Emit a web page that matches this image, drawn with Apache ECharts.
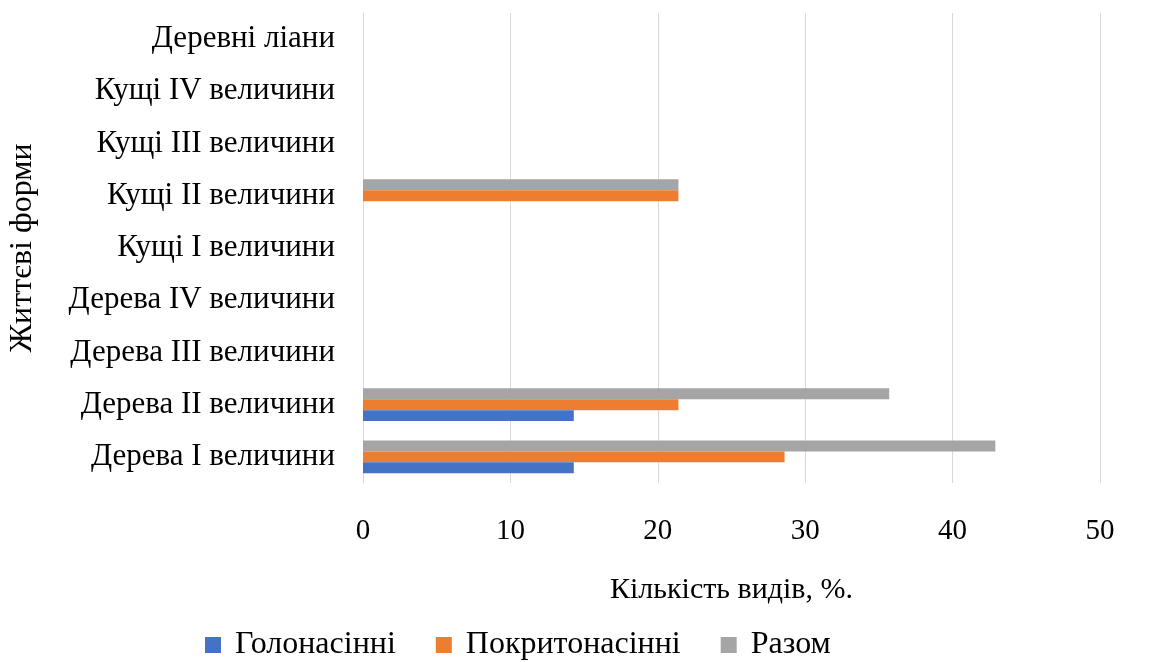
<!DOCTYPE html>
<html><head><meta charset="utf-8">
<script src="https://cdn.jsdelivr.net/npm/echarts@6/dist/echarts.min.js"></script>
<style>html,body{margin:0;padding:0;background:#fff}#c{width:1157px;height:662px}</style>
</head><body><div id="c"></div>
<script>
const categories = ['Дерева I величини','Дерева II величини','Дерева III величини','Дерева IV величини','Кущі I величини','Кущі II величини','Кущі III величини','Кущі IV величини','Деревні ліани'];
const seriesNames = ['Голонасінні','Покритонасінні','Разом'];
const gymno = [14.3, 14.3, 0, 0, 0, 0, 0, 0, 0];
const angio = [28.6, 21.4, 0, 0, 0, 21.4, 0, 0, 0];
const total = [42.9, 35.7, 0, 0, 0, 21.4, 0, 0, 0];
const xTicks = [0, 10, 20, 30, 40, 50];
const colors = ['#4472c4', '#ed7d31', '#a5a5a5'];
const font = 'Liberation Serif';
const chart = echarts.init(document.getElementById('c'));
const barCommon = {type: 'bar', barGap: '0%', barCategoryGap: '37%'};
chart.setOption({
  animation: false,
  textStyle: {fontFamily: font},
  grid: {left: 363, right: 57, top: 13, bottom: 179, containLabel: false, outerBoundsMode: 'none'},
  legend: {
    data: seriesNames, bottom: 1, left: 205, padding: 0, itemWidth: 16, itemHeight: 16, itemGap: 40,
    icon: 'rect', textStyle: {fontFamily: font, fontSize: 32, color: '#000', padding: [0, 0, 0, 9]}
  },
  xAxis: {
    type: 'value', min: xTicks[0], max: xTicks[xTicks.length-1], interval: 10,
    name: 'Кількість видів, %.', nameLocation: 'middle', nameGap: 92,
    nameTextStyle: {fontFamily: font, fontSize: 30, color: '#000'},
    axisLine: {show: false}, axisTick: {show: false},
    axisLabel: {margin: 34, fontFamily: font, fontSize: 29, color: '#000'},
    splitLine: {lineStyle: {color: '#d9d9d9'}}
  },
  yAxis: {
    type: 'category', data: categories,
    name: 'Життєві форми', nameLocation: 'middle', nameGap: 324, nameRotate: 90,
    nameTextStyle: {fontFamily: font, fontSize: 32, color: '#000'},
    axisLine: {show: true, lineStyle: {color: '#d9d9d9'}}, axisTick: {show: false},
    axisLabel: {margin: 28, fontFamily: font, fontSize: 31, color: '#000', padding: [6, 0, 0, 0]}
  },
  series: [
    Object.assign({name: seriesNames[2], data: total, itemStyle: {color: colors[2]}}, barCommon),
    Object.assign({name: seriesNames[1], data: angio, itemStyle: {color: colors[1]}}, barCommon),
    Object.assign({name: seriesNames[0], data: gymno, itemStyle: {color: colors[0]}}, barCommon)
  ]
});
</script></body></html>
